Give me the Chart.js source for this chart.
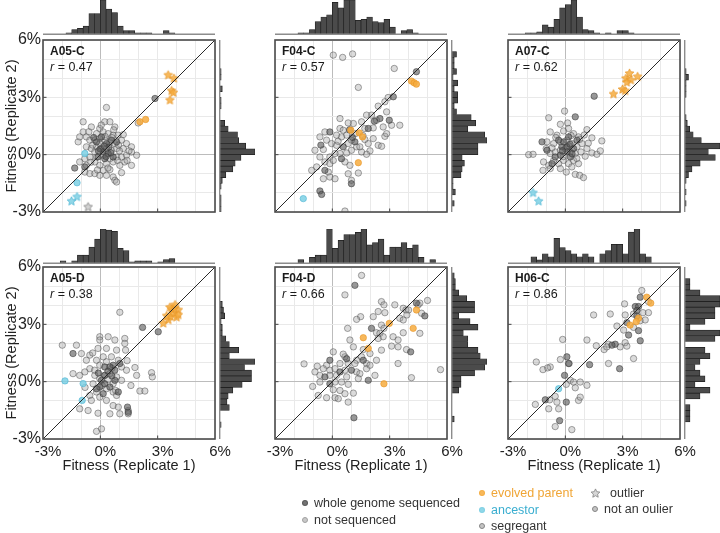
<!DOCTYPE html>
<html>
<head>
<meta charset="utf-8">
<script src="https://cdn.jsdelivr.net/npm/chart.js@4.4.1/dist/chart.umd.min.js"></script>
<style>
  body { margin: 0; background: #fff; }
  #wrap { position: relative; width: 720px; height: 533px; overflow: hidden; font-family: "Liberation Sans", Arial, sans-serif; }
  #wrap canvas { position: absolute; }
  .leg { position: absolute; font-size: 12.5px; line-height: 14px; color: #333; white-space: nowrap; }
  .dot { position: absolute; width: 6px; height: 6px; border-radius: 50%; box-sizing: border-box; }
</style>
</head>
<body>
<div id="wrap"></div>
<script>
// ---- data (fitness in %, replicate 1 = x, replicate 2 = y) ----
const panelNames = ['A05-C', 'F04-C', 'A07-C', 'A05-D', 'F04-D', 'H06-C'];
const rValues = ['0.47', '0.57', '0.62', '0.38', '0.66', '0.86'];
const tickValues = [-3, 0, 3, 6];

// A05-C
const wgs_A05C = [[0.06,0.93],[0.32,0.58],[0.58,0.76],[0.15,0.14],[-0.12,-0.12],[0.41,0.06],[0.85,0.67],[0.67,-0.12],[0.23,-0.21],[-0.2,0.67],[-0.81,-0.64],[-1.34,-0.7],[2.86,2.94],[0.0,0.3],[0.45,0.4],[0.2,0.45],[-0.1,0.2],[0.55,0.1],[0.3,-0.1],[-0.35,0.9]];
const notSeq_A05C = [[0.32,2.47],[-0.9,1.72],[-0.47,1.45],[-0.9,1.19],[-1.16,0.67],[-1.08,0.93],[-0.73,0.93],[-0.03,1.37],[0.23,1.72],[0.5,1.72],[0.76,1.45],[-0.2,1.1],[0.15,1.19],[0.41,1.1],[0.67,1.02],[0.93,1.02],[-0.55,0.76],[-0.29,0.76],[-0.03,0.84],[0.23,0.76],[0.5,0.67],[0.76,0.58],[1.11,0.76],[1.37,0.58],[1.63,0.41],[1.9,-0.03],[1.63,0.14],[1.2,0.32],[-0.73,0.41],[-0.47,0.32],[-0.2,0.41],[0.06,0.32],[0.32,0.32],[0.58,0.23],[0.85,0.32],[-0.03,0.58],[-0.29,0.14],[-0.81,-0.21],[-0.55,-0.12],[-0.2,-0.12],[0.15,-0.03],[0.5,-0.21],[0.85,-0.12],[1.11,-0.12],[1.37,-0.03],[-1.08,-0.38],[-0.73,-0.56],[-0.29,-0.38],[-0.03,-0.56],[0.32,-0.47],[0.67,-0.38],[1.02,-0.56],[1.28,-0.38],[1.63,-0.56],[-0.81,-0.91],[-0.55,-0.99],[-0.29,-0.99],[-0.03,-1.08],[0.32,-1.08],[0.67,-1.17],[0.76,-1.34],[0.85,-1.43],[1.11,-0.94],[0.15,-0.82],[0.5,-0.78],[1.98,1.66],[-0.6,1.2],[0.05,1.55],[0.6,0.9],[1.0,0.2],[0.4,-0.7],[-0.4,0.5],[0.9,-0.3],[1.5,0.2],[-0.5,-0.4],[0.25,0.95],[1.2,1.05],[0.7,1.3],[-0.15,-0.8],[0.95,0.5],[1.4,-0.3]];
const parentDot_A05C = [[2.07,1.72],[2.37,1.84]];
const parentStar_A05C = [[3.55,4.16],[3.85,3.99],[3.73,3.34],[3.82,3.24],[3.64,2.85]];
const ancDot_A05C = [[-0.81,0.06],[-1.22,-1.47]];
const ancStar_A05C = [[-1.22,-2.21],[-1.51,-2.44]];
const segStar_A05C = [[-0.64,-2.74]];
const histX_A05C = [0,0,0,0,1,4,5,7,18,18,30,22,19,7,3,3,1,1,1,0,0,3,1,0,0,0,0,0,0,0];
const histY_A05C = [1,1,1,0,1,2,5,11,13,18,30,22,16,15,7,4,0,0,1,1,0,2,0,1,1,0,0,0,0,0];

// F04-C
const wgs_F04C = [[4.4,4.34],[3.19,3.03],[2.49,1.89],[2.98,1.8],[1.88,1.37],[-0.13,1.19],[0.57,0.41],[1.18,0.67],[1.0,-1.52],[-0.65,-1.9],[-0.56,-2.08],[0.48,-0.21],[-0.39,-0.82],[1.05,0.9],[0.9,1.3],[-0.6,0.5],[2.2,1.75]];
const notSeq_F04C = [[0.05,5.21],[0.54,5.09],[1.06,5.27],[3.24,4.51],[1.36,3.52],[2.92,2.99],[2.75,2.77],[2.4,2.54],[2.84,2.24],[2.05,2.07],[1.79,2.07],[3.1,1.54],[3.53,1.54],[2.31,1.8],[2.66,1.45],[1.7,1.37],[2.14,1.4],[1.53,1.72],[1.1,1.63],[0.83,1.66],[0.4,1.89],[0.4,1.37],[0.57,1.28],[0.75,1.02],[0.48,0.93],[0.22,1.02],[-0.39,1.19],[-0.65,0.93],[-0.3,0.76],[-0.04,0.58],[0.22,0.49],[0.83,0.58],[1.0,0.76],[1.27,0.41],[1.0,0.23],[0.75,0.09],[0.4,0.06],[0.14,0.06],[-0.13,-0.12],[-0.65,-0.12],[-0.91,0.23],[-0.47,0.27],[1.7,0.79],[1.88,0.58],[2.14,0.84],[2.4,0.49],[2.58,0.44],[2.75,0.96],[2.84,1.1],[1.97,0.2],[1.79,0.02],[1.53,0.14],[1.44,0.41],[-1.08,-0.82],[-0.82,-0.64],[-0.39,-0.38],[-0.13,-0.47],[-0.21,-0.91],[-0.13,-1.17],[0.14,-1.26],[-0.47,-1.26],[0.66,-0.38],[0.92,-0.56],[0.83,-1.0],[1.0,-1.34],[1.36,-0.96],[0.66,-2.95],[0.05,-0.3],[1.2,1.1],[0.3,0.7],[1.6,1.0]];
const parentDot_F04C = [[4.14,3.85],[4.28,3.76],[4.4,3.69],[0.97,1.28],[1.41,1.14],[1.58,0.93],[1.36,-0.42]];
const parentStar_F04C = [];
const ancDot_F04C = [[-1.52,-2.3]];
const ancStar_F04C = [];
const segStar_F04C = [];
const histX_F04C = [0,0,0,0,1,1,4,11,15,17,28,23,30,30,12,13,15,11,10,13,6,0,3,4,1,0,0,0,0,0];
const histY_F04C = [0,2,0,3,1,1,8,9,11,9,23,23,31,29,14,21,17,4,2,5,5,2,5,1,4,2,2,4,0,0];

// A07-C
const wgs_A07C = [[1.51,3.06],[0.52,1.98],[-1.22,0.67],[-0.18,0.41],[0.08,0.4],[0.26,-0.12],[-0.26,-0.03],[-0.53,-0.12],[0.43,0.32],[0.61,0.76],[-0.09,0.67],[0.17,0.93],[-0.35,0.76],[-0.96,0.23],[-0.7,-0.47],[0.1,0.15],[0.35,0.05],[-0.15,0.2],[0.25,0.55]];
const notSeq_A07C = [[-0.04,2.28],[-0.87,1.93],[-0.26,1.59],[0.12,1.66],[1.13,1.31],[-0.79,1.19],[-0.44,1.02],[-0.09,1.24],[0.17,1.37],[0.43,1.1],[0.69,0.93],[0.99,1.03],[1.39,0.88],[1.91,0.72],[-0.96,0.67],[-0.61,0.58],[-0.26,0.67],[0.08,0.76],[0.34,0.58],[0.61,0.41],[0.87,0.58],[1.13,0.32],[1.39,0.09],[1.65,0.02],[1.83,0.2],[-1.92,0.0],[-1.69,0.02],[-1.0,0.32],[-0.79,0.06],[-0.53,0.14],[-0.26,0.23],[0.0,0.32],[0.26,0.14],[0.52,0.06],[0.82,0.14],[1.04,-0.08],[-1.14,-0.38],[-0.87,-0.56],[-0.61,-0.3],[-0.35,-0.47],[-0.09,-0.3],[0.17,-0.47],[0.43,-0.3],[0.69,-0.47],[-1.17,-0.82],[-0.79,-0.73],[-0.26,-0.73],[0.05,-0.91],[0.52,-1.03],[0.75,-1.08],[0.95,-1.2],[0.34,-0.64],[-0.5,0.9],[0.3,1.0],[0.75,0.8],[-0.1,-0.1],[0.6,-0.2],[-0.7,0.35],[0.2,0.45],[1.2,0.6]];
const parentDot_A07C = [];
const parentStar_A07C = [[3.36,4.25],[3.17,3.99],[3.43,3.9],[3.78,4.08],[3.22,3.78],[2.99,3.41],[3.13,3.34],[2.52,3.17]];
const ancDot_A07C = [];
const ancStar_A07C = [[-1.69,-2.0],[-1.4,-2.44]];
const segStar_A07C = [];
const histX_A07C = [0,0,0,1,1,2,8,6,13,23,26,30,15,4,3,1,0,1,0,3,3,1,0,0,0,0,0,0,0,0];
const histY_A07C = [0,1,0,1,0,1,3,6,13,26,20,30,14,7,4,2,1,0,0,0,1,1,1,3,1,0,0,0,0,0];

// A05-D
const wgs_A05D = [[3.03,2.61],[2.21,2.84],[0.67,0.86],[1.02,0.95],[-0.03,-0.28],[1.42,-1.33],[0.23,0.77],[0.5,0.77],[0.76,0.6],[0.23,0.33],[0.06,0.07],[0.23,-0.11],[0.5,-0.28],[-0.2,-0.37],[0.76,0.07],[0.15,-0.63],[0.94,-0.54],[-1.43,1.47],[1.46,-1.6],[0.4,0.55],[0.6,0.3],[-0.1,0.45]];
const notSeq_A05D = [[1.02,3.63],[-1.99,1.91],[-1.25,1.91],[-0.99,1.47],[-0.03,2.35],[-0.03,2.18],[0.41,2.35],[0.76,2.18],[1.28,2.26],[1.28,2.0],[1.32,1.65],[0.85,1.65],[0.32,1.74],[-0.12,1.74],[-0.55,1.39],[-0.73,1.12],[-0.2,1.12],[0.15,1.3],[0.58,1.3],[0.94,1.12],[-0.03,0.86],[0.32,1.04],[1.11,0.77],[1.37,0.6],[1.81,0.74],[2.68,0.47],[2.72,0.25],[1.9,0.33],[-1.08,0.33],[-0.81,0.51],[-1.43,0.42],[-0.55,0.68],[-0.29,0.33],[-0.03,0.16],[0.23,0.33],[0.5,0.42],[0.85,0.25],[1.11,0.07],[0.67,-0.11],[-0.38,-0.11],[0.32,-0.37],[0.67,-0.54],[0.85,-0.72],[-0.2,-0.54],[-0.55,-0.72],[-0.47,-0.98],[-0.03,-0.81],[0.32,-0.98],[0.67,-1.25],[0.94,-1.33],[1.46,-1.51],[1.46,-1.68],[1.02,-1.68],[0.5,-1.68],[-0.12,-1.65],[-0.64,-1.51],[-1.08,-1.42],[0.06,-2.47],[-0.2,-2.6],[2.07,-0.49],[2.33,-0.49],[0.8,-0.46],[-0.3,0.6],[0.4,0.1],[1.4,1.1],[-0.8,-0.3],[0.1,-0.2],[0.6,0.7],[-0.4,1.5],[1.6,-0.2]];
const parentDot_A05D = [];
const parentStar_A05D = [[3.29,3.05],[3.56,3.23],[3.68,3.4],[3.82,3.58],[4.08,3.75],[3.99,3.37],[3.73,3.79],[3.85,3.84],[3.64,3.89],[3.91,4.02],[4.08,3.49],[3.47,3.44]];
const ancDot_A05D = [[-1.85,0.04],[-0.9,-0.1],[-0.95,-0.98]];
const ancStar_A05D = [];
const segStar_A05D = [];
const histX_A05D = [0,0,0,2,0,2,7,7,14,21,30,29,28,13,11,1,2,2,2,0,1,3,4,0,0,0,0,0,0,0];
const histY_A05D = [0,0,1,0,0,8,6,7,11,19,27,27,21,30,8,16,8,5,2,2,1,4,3,2,0,0,0,0,0,0];

// F04-D
const wgs_F04D = [[1.18,5.04],[4.4,4.11],[4.84,3.44],[2.05,2.79],[4.1,1.56],[0.75,1.2],[1.62,1.12],[-0.13,1.12],[0.4,0.51],[1.0,0.6],[-0.39,0.25],[1.88,0.07],[-0.13,-0.11],[1.13,-1.89]];
const notSeq_F04D = [[1.53,5.56],[0.66,4.54],[2.57,4.19],[2.7,4.02],[3.27,4.02],[3.71,3.84],[3.85,3.75],[4.49,4.02],[4.58,4.11],[4.98,4.25],[4.67,3.58],[3.99,3.75],[3.9,3.49],[3.53,3.32],[3.71,3.23],[2.4,3.67],[2.75,3.61],[2.14,3.4],[1.48,3.4],[1.27,3.26],[2.57,2.96],[2.7,2.79],[2.31,2.56],[2.49,2.53],[0.8,2.79],[3.71,2.56],[4.58,2.53],[3.18,2.35],[3.44,2.18],[2.66,2.35],[2.4,2.26],[0.92,2.18],[1.1,1.82],[1.62,1.68],[3.1,1.86],[3.44,1.82],[3.88,1.68],[2.57,1.65],[1.97,1.47],[1.53,1.3],[0.66,1.3],[0.57,1.44],[0.05,1.56],[-1.48,0.93],[1.27,1.12],[1.79,0.95],[2.31,1.12],[3.44,0.95],[1.18,0.95],[0.83,0.95],[0.4,0.95],[-0.3,0.86],[-0.47,0.68],[-0.13,0.6],[0.14,0.68],[0.66,0.6],[1.27,0.51],[1.44,0.42],[1.79,0.68],[1.97,0.86],[2.23,0.33],[-0.79,0.81],[-0.91,0.51],[-0.65,0.33],[-0.13,0.33],[0.22,0.33],[0.75,0.25],[1.36,0.16],[4.14,0.21],[5.66,0.63],[-1.03,-0.25],[-0.74,-0.72],[-0.3,-0.84],[0.05,-0.42],[0.4,-0.46],[0.66,-0.63],[0.14,-0.84],[0.31,-0.89],[0.83,-1.07],[1.1,-0.6],[0.14,-0.02],[0.48,-0.02],[-0.65,-0.02],[0.83,-0.14]];
const parentDot_F04D = [[2.98,3.05],[1.62,2.3],[1.88,1.74],[4.23,2.79],[4.4,3.75],[2.7,-0.11]];
const parentStar_F04D = [];
const ancDot_F04D = [];
const ancStar_F04D = [];
const segStar_F04D = [];
const histX_F04D = [0,0,0,0,3,0,5,7,7,30,13,20,25,25,27,30,16,18,21,7,14,14,18,13,16,5,0,3,0,0];
const histY_F04D = [0,0,0,2,0,0,0,0,6,8,8,20,29,31,25,23,14,14,10,23,16,6,20,20,13,6,3,3,2,0];

// H06-C
const wgs_H06C = [[3.92,4.42],[3.66,3.93],[3.83,3.93],[3.74,3.72],[3.74,3.44],[3.22,3.09],[3.83,2.67],[3.31,2.44],[3.92,2.14],[2.61,1.96],[2.44,1.91],[2.84,0.68],[1.27,0.89],[0.08,1.3],[0.17,0.95],[-0.04,0.33],[-1.05,-0.95],[0.05,-1.07],[-0.3,-2.04]];
const notSeq_H06C = [[4.0,4.77],[4.35,4.19],[3.1,4.07],[4.06,3.61],[4.35,3.61],[3.57,3.54],[3.92,3.19],[4.18,3.23],[3.57,2.84],[3.13,3.49],[3.05,2.7],[2.7,2.91],[2.35,3.54],[1.48,3.49],[3.13,2.04],[3.22,1.86],[3.57,1.21],[2.87,1.82],[2.26,1.96],[2.03,1.68],[2.17,1.82],[1.62,1.88],[1.13,2.18],[-0.14,2.21],[2.26,0.95],[-0.26,1.16],[-0.79,0.77],[-0.93,0.72],[-1.17,0.63],[-1.52,1.03],[0.26,0.07],[0.43,-0.02],[0.78,-0.02],[1.13,-0.19],[0.05,-0.14],[0.52,-0.32],[-1.57,-1.19],[-0.82,-0.95],[-0.53,-0.77],[-0.44,-1.07],[0.69,-0.98],[0.78,-0.81],[-0.87,-1.42],[-0.35,-1.42],[-0.53,-2.35],[0.34,-2.51],[0.2,0.95]];
const parentDot_H06C = [[4.26,4.42],[4.47,4.11],[3.83,3.32],[3.71,3.14],[3.39,2.96]];
const parentStar_H06C = [];
const ancDot_H06C = [[-0.35,-0.37]];
const ancStar_H06C = [];
const segStar_H06C = [];
const histX_H06C = [0,0,0,0,2,1,3,2,8,5,4,3,2,3,2,0,3,4,6,6,3,10,11,3,2,0,0,0,0,0];
const histY_H06C = [0,0,0,1,1,1,0,3,5,2,4,3,2,3,5,4,0,6,7,1,4,6,6,7,7,3,1,1,0,0];

// histogram bins: 30 bins of 0.3% from -3% to 6%
const binLabels = Array.from({length: 30}, (_, i) => (-3 + i * 0.3).toFixed(1));

const panels = [
  {wgs: wgs_A05C, ns: notSeq_A05C, pd: parentDot_A05C, ps: parentStar_A05C, ad: ancDot_A05C, as: ancStar_A05C, ss: segStar_A05C, hx: histX_A05C, hy: histY_A05C},
  {wgs: wgs_F04C, ns: notSeq_F04C, pd: parentDot_F04C, ps: parentStar_F04C, ad: ancDot_F04C, as: ancStar_F04C, ss: segStar_F04C, hx: histX_F04C, hy: histY_F04C},
  {wgs: wgs_A07C, ns: notSeq_A07C, pd: parentDot_A07C, ps: parentStar_A07C, ad: ancDot_A07C, as: ancStar_A07C, ss: segStar_A07C, hx: histX_A07C, hy: histY_A07C},
  {wgs: wgs_A05D, ns: notSeq_A05D, pd: parentDot_A05D, ps: parentStar_A05D, ad: ancDot_A05D, as: ancStar_A05D, ss: segStar_A05D, hx: histX_A05D, hy: histY_A05D},
  {wgs: wgs_F04D, ns: notSeq_F04D, pd: parentDot_F04D, ps: parentStar_F04D, ad: ancDot_F04D, as: ancStar_F04D, ss: segStar_F04D, hx: histX_F04D, hy: histY_F04D},
  {wgs: wgs_H06C, ns: notSeq_H06C, pd: parentDot_H06C, ps: parentStar_H06C, ad: ancDot_H06C, as: ancStar_H06C, ss: segStar_H06C, hx: histX_H06C, hy: histY_H06C}
];

// ---- layout & style ----
const BOX = 172;
const colLeft = [43, 275, 508];
const rowTop = [40, 267];
const histTop = [0, 229];
const FONT = '"Liberation Sans", Arial, Helvetica, sans-serif';
const ORANGE = 'rgba(246,172,62,0.85)';
const ORANGE_EDGE = 'rgba(232,150,40,0.9)';
const CYAN = 'rgba(125,208,228,0.85)';
const CYAN_EDGE = 'rgba(80,182,212,0.9)';

Chart.defaults.font.family = FONT;
Chart.defaults.color = '#222';

const wrap = document.getElementById('wrap');
function addCanvas(left, top, w, h) {
  const c = document.createElement('canvas');
  c.width = w; c.height = h;
  c.style.left = left + 'px'; c.style.top = top + 'px';
  c.style.width = w + 'px'; c.style.height = h + 'px';
  wrap.appendChild(c);
  return c;
}

function starImage(fill, edge, r) {
  const s = Math.ceil(r * 2 + 3);
  const c = document.createElement('canvas');
  c.width = s; c.height = s;
  const g = c.getContext('2d');
  g.beginPath();
  for (let i = 0; i < 10; i++) {
    const rr = i % 2 ? r * 0.48 : r;
    const a = -Math.PI / 2 + i * Math.PI / 5;
    g.lineTo(s / 2 + rr * Math.cos(a), s / 2 + rr * Math.sin(a));
  }
  g.closePath();
  g.fillStyle = fill; g.fill();
  g.strokeStyle = edge; g.lineWidth = 0.8; g.stroke();
  return c;
}
const starOrange = starImage(ORANGE, ORANGE_EDGE, 4.6);
const starCyan = starImage(CYAN, CYAN_EDGE, 4.6);
const starGray = starImage('rgba(205,205,205,0.9)', 'rgba(120,120,120,0.9)', 4.6);

const toXY = a => a.map(p => ({x: p[0], y: p[1]}));

const baselinePlugin = side => ({
  id: 'baseline',
  afterDraw(chart) {
    const {ctx, chartArea: a} = chart;
    ctx.save();
    ctx.strokeStyle = '#8c8c8c';
    ctx.lineWidth = 1.4;
    ctx.beginPath();
    if (side === 'bottom') { ctx.moveTo(a.left, a.bottom + 0.3); ctx.lineTo(a.right, a.bottom + 0.3); }
    else { ctx.moveTo(a.left - 0.3, a.top); ctx.lineTo(a.left - 0.3, a.bottom); }
    ctx.stroke();
    ctx.restore();
  }
});

function histChart(canvas, data, horizontal) {
  return new Chart(canvas, {
    type: 'bar',
    data: {labels: binLabels, datasets: [{
      data, backgroundColor: '#4b4b4b', borderColor: '#1e1e1e', borderWidth: 0.7,
      barPercentage: 1, categoryPercentage: 1
    }]},
    options: {
      indexAxis: horizontal ? 'y' : 'x',
      responsive: false, animation: false, devicePixelRatio: 1,
      layout: {padding: horizontal ? {left: 1} : {bottom: 1}},
      plugins: {legend: {display: false}, tooltip: {enabled: false}},
      scales: horizontal
        ? {y: {display: false, reverse: true}, x: {display: false, min: 0, max: Math.max(...data)}}
        : {x: {display: false}, y: {display: false, min: 0, max: Math.max(...data)}}
    },
    plugins: [baselinePlugin(horizontal ? 'left' : 'bottom')]
  });
}

panels.forEach((p, i) => {
  const col = i % 3, row = Math.floor(i / 3);
  const L = colLeft[col], T = rowTop[row];
  const showY = col === 0, showX = row === 1;

  histChart(addCanvas(L, histTop[row], BOX, 35), p.hx, false);
  histChart(addCanvas(L + BOX + 4, T, 36, BOX), p.hy, true);

  const deco = {
    id: 'deco',
    afterDraw(chart) {
      const {ctx, chartArea: a, scales} = chart;
      ctx.save();
      // inward tick marks
      ctx.strokeStyle = '#444';
      ctx.lineWidth = 1;
      ctx.beginPath();
      [0, 3].forEach(v => {
        const x = scales.x.getPixelForValue(v), y = scales.y.getPixelForValue(v);
        ctx.moveTo(x, a.bottom); ctx.lineTo(x, a.bottom - 3.5);
        ctx.moveTo(a.left, y); ctx.lineTo(a.left + 3.5, y);
      });
      ctx.stroke();
      // frame
      ctx.strokeStyle = '#4a4a4a';
      ctx.lineWidth = 1.6;
      ctx.strokeRect(a.left, a.top, a.right - a.left, a.bottom - a.top);
      // panel name and correlation
      ctx.fillStyle = '#1a1a1a';
      ctx.textBaseline = 'middle';
      ctx.font = 'bold 12px ' + FONT;
      ctx.fillText(panelNames[i], a.left + 7, a.top + 12);
      ctx.font = 'italic 12.5px ' + FONT;
      ctx.fillText('r', a.left + 7, a.top + 28);
      const w = ctx.measureText('r').width;
      ctx.font = '12.5px ' + FONT;
      ctx.fillText(' = ' + rValues[i], a.left + 7 + w, a.top + 28);
      ctx.restore();
    }
  };

  const gridColor = c => c.tick && c.tick.value === 0 ? '#bcbcbc' : '#e9e9e9';
  const circle = (data, fill, edge, order) => ({
    data: toXY(data), backgroundColor: fill, borderColor: edge, borderWidth: 0.7,
    pointRadius: 3.2, order
  });
  const stars = (data, img, order) => ({data: toXY(data), pointStyle: img, pointRadius: 5, order});

  new Chart(addCanvas(L - 43, T - 12, 43 + BOX + 20, 12 + BOX + 37), {
    type: 'scatter',
    data: {datasets: [
      {data: [{x: -3, y: -3}, {x: 6, y: 6}], showLine: true, borderColor: '#2a2a2a', borderWidth: 1, pointRadius: 0, order: 0},
      stars(p.ps, starOrange, 1),
      stars(p.as, starCyan, 1),
      stars(p.ss, starGray, 1),
      circle(p.pd, ORANGE, ORANGE_EDGE, 1),
      circle(p.ad, CYAN, CYAN_EDGE, 1),
      circle(p.wgs, 'rgba(88,88,88,0.62)', 'rgba(50,50,50,0.75)', 2),
      circle(p.ns, 'rgba(160,160,160,0.38)', 'rgba(75,75,75,0.7)', 3)
    ]},
    options: {
      responsive: false, animation: false, devicePixelRatio: 1,
      layout: {padding: {top: 12, right: 20, left: 0, bottom: 0}},
      plugins: {legend: {display: false}, tooltip: {enabled: false}},
      scales: {
        x: {
          type: 'linear', min: -3, max: 6,
          afterFit: s => { s.height = 37; },
          grid: {color: gridColor, lineWidth: 1, drawTicks: false},
          border: {display: false},
          ticks: {stepSize: 1, autoSkip: false, padding: 4, labelOffset: 5, maxRotation: 0,
            font: {size: 15}, color: '#222',
            callback: v => (showX && tickValues.includes(v)) ? v + '%' : ''},
          title: {display: showX, text: 'Fitness (Replicate 1)', font: {size: 14.5}, color: '#222', padding: {top: 0, bottom: 1}}
        },
        y: {
          type: 'linear', min: -3, max: 6,
          afterFit: s => { s.width = 43; },
          grid: {color: gridColor, lineWidth: 1, drawTicks: false},
          border: {display: false},
          ticks: {stepSize: 1, autoSkip: false, padding: 2,
            font: {size: 16}, color: '#222',
            callback: v => (showY && tickValues.includes(v)) ? v + '%' : ''},
          title: {display: showY, text: 'Fitness (Replicate 2)', font: {size: 14.5}, color: '#222', padding: {top: 3, bottom: 0}}
        }
      }
    },
    plugins: [deco]
  });
});

// ---- legend ----
const legendItems = [
  {label: 'whole genome sequenced', x: 305, y: 503, kind: 'dot', fill: 'rgba(80,80,80,0.8)', edge: 'rgba(80,80,80,0.8)', color: '#333'},
  {label: 'not sequenced', x: 305, y: 520, kind: 'dot', fill: '#c8c8c8', edge: '#a0a0a0', color: '#333'},
  {label: 'evolved parent', x: 482, y: 493, kind: 'dot', fill: ORANGE, edge: ORANGE, color: '#f0a535'},
  {label: 'ancestor', x: 482, y: 510, kind: 'dot', fill: CYAN, edge: CYAN, color: '#3aaed0'},
  {label: 'segregant', x: 482, y: 526, kind: 'dot', fill: '#c4c4c4', edge: '#858585', color: '#333'},
  {label: 'outlier', x: 595, y: 493, kind: 'star', color: '#333'},
  {label: 'not an oulier', x: 595, y: 509, kind: 'dot', fill: '#c4c4c4', edge: '#858585', color: '#333'}
];
legendItems.forEach(it => {
  if (it.kind === 'dot') {
    const d = document.createElement('div');
    d.className = 'dot';
    d.style.left = (it.x - 3) + 'px'; d.style.top = (it.y - 3) + 'px';
    d.style.background = it.fill; d.style.border = '0.8px solid ' + it.edge;
    wrap.appendChild(d);
  } else {
    const s = starImage('rgba(215,215,215,1)', 'rgba(130,130,130,1)', 4.6);
    s.style.left = (it.x - s.width / 2) + 'px'; s.style.top = (it.y - s.height / 2) + 'px';
    wrap.appendChild(s);
  }
  const t = document.createElement('div');
  t.className = 'leg';
  t.textContent = it.label;
  t.style.color = it.color;
  t.style.left = (it.x + (it.kind === 'star' ? 15 : 9)) + 'px';
  t.style.top = (it.y - 7) + 'px';
  wrap.appendChild(t);
});
</script>
</body>
</html>
